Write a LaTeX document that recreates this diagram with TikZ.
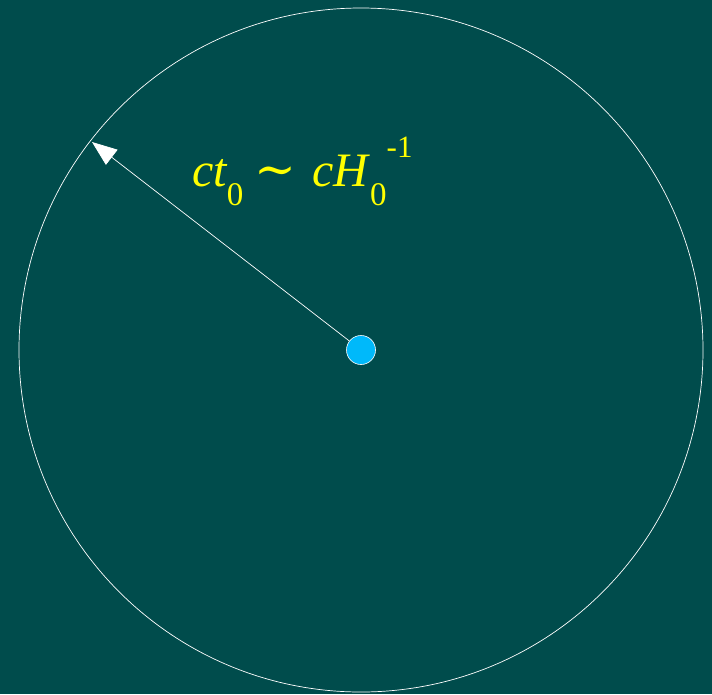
\documentclass[tikz,border=0pt]{standalone}
\usepackage{fontspec}
\setmainfont{Liberation Serif}
\newfontfamily\tildefont{DejaVu Serif}
\usetikzlibrary{arrows.meta}
\definecolor{board}{RGB}{0,76,76}
\definecolor{dotblue}{RGB}{0,185,250}
\definecolor{chalk}{RGB}{255,255,0}
\newcommand{\subz}{\raisebox{-0.4em}{\upshape\fontsize{33}{33}\selectfont 0}}

\begin{document}
\begin{tikzpicture}[x=1pt,y=-1pt]
  \fill[board] (0,0) rectangle (712,694);
  \useasboundingbox (0,0) rectangle (712,694);
  \draw[white,line width=0.7pt] (361,350) circle[radius=342];
  \node[circle,fill=dotblue,draw=white,line width=0.6pt,minimum size=29pt,inner sep=0pt] (center) at (361,350) {};
  \coordinate (rim) at (92,142);
  \draw[white,line width=0.7pt,-{Triangle[length=25pt,width=19pt]}] (center) -- (rim);
  \node[chalk,anchor=base west,inner sep=0pt] (radius) at (192,186)
    {\fontsize{48}{52}\selectfont\itshape ct\subz\hspace{11pt}{\upshape\tildefont\fontsize{50}{50}\selectfont ∼}\hspace{16pt}cH\hspace{2pt}\subz\raisebox{0.6em}{\upshape\fontsize{31}{31}\selectfont -1}};
\end{tikzpicture}
\end{document}
